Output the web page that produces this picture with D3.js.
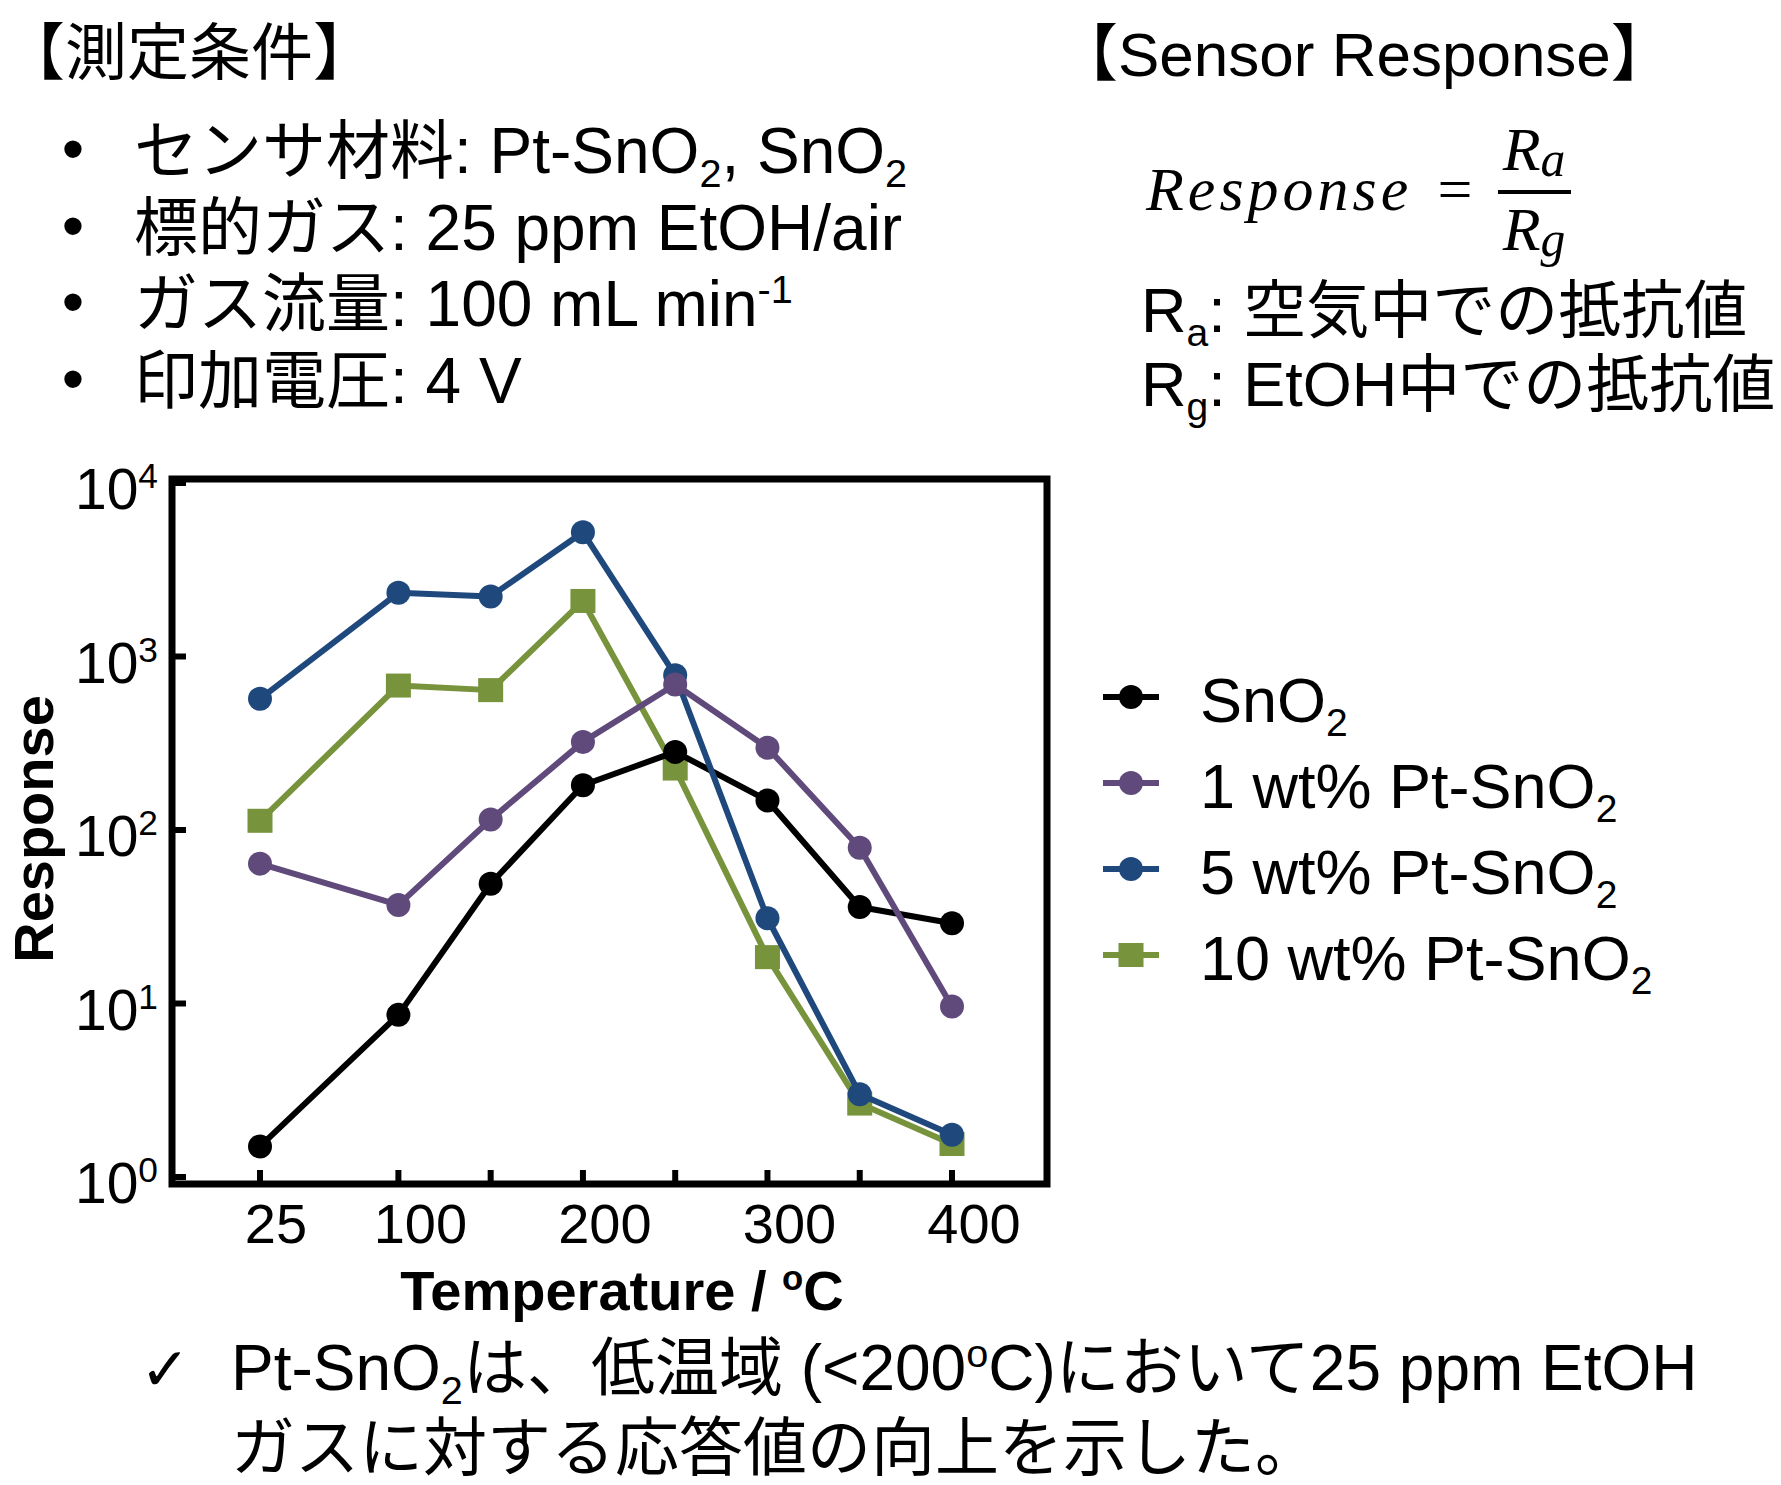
<!DOCTYPE html>
<html>
<head>
<meta charset="utf-8">
<script src="https://cdn.jsdelivr.net/npm/d3@7"></script>
<style>
  body { margin: 0; background: #fff; }
</style>
</head>
<body>
<svg id="chart"></svg>
<script>
const temps = [25, 100, 150, 200, 250, 300, 350, 400];
const xTickLabels = [25, 100, 200, 300, 400];
const yTicks = [1, 10, 100, 1000, 10000];

const sno2 = [1.5, 8.6, 49, 181, 282, 148, 36, 29];
const pt1 = [64, 37, 115, 322, 690, 298, 79, 9.6];
const pt5 = [570, 2330, 2220, 5200, 780, 31, 3.0, 1.75];
const pt10 = [113, 680, 640, 2090, 226, 18.5, 2.65, 1.55];

const legendLabels = ['SnO_{2}', '1 wt% Pt-SnO_{2}', '5 wt% Pt-SnO_{2}', '10 wt% Pt-SnO_{2}'];
const seriesColors = ['#000000', '#604a7b', '#1f497d', '#77933c'];
const seriesShapes = ['circle', 'circle', 'circle', 'square'];
const seriesValues = [sno2, pt1, pt5, pt10];
const drawOrder = [3, 0, 2, 1];

const conditionsTitle = '【測定条件】';
const conditions = [
  'センサ材料: Pt-SnO_{2}, SnO_{2}',
  '標的ガス: 25 ppm EtOH/air',
  'ガス流量: 100 mL min^{-1}',
  '印加電圧: 4 V'
];
const responseTitle = '【Sensor Response】';
const resistanceNotes = ['R_{a}: 空気中での抵抗値', 'R_{g}: EtOH中での抵抗値'];
const conclusion = [
  'Pt-SnO_{2}は、低温域 (<200^{o}C)において25 ppm EtOH',
  'ガスに対する応答値の向上を示した。'
];

const W = 1781, H = 1485;
const sans = "'Liberation Sans', Arial, 'Noto Sans CJK JP', sans-serif";
const serif = "'Liberation Serif', 'Times New Roman', serif";

const svg = d3.select('#chart')
    .attr('width', W)
    .attr('height', H)
    .attr('viewBox', [0, 0, W, H])
    .style('font-family', sans);

// small markup: _{sub} and ^{sup}
function rich(sel, str, size, subScale = 0.62, subDrop = 0.22) {
  const parts = str.split(/(_\{[^}]*\}|\^\{[^}]*\})/).filter(s => s);
  let shift = 0;
  parts.forEach(p => {
    let t = p, fs = size, target = 0;
    if (p.startsWith('_{')) { t = p.slice(2, -1); fs = size * subScale; target = size * subDrop; }
    else if (p.startsWith('^{')) { t = p.slice(2, -1); fs = size * subScale; target = -size * 0.36; }
    sel.append('tspan').attr('font-size', fs).attr('dy', target - shift).text(t);
    shift = target;
  });
  return sel;
}

// ---- header text ----
svg.append('text')
    .attr('x', 3).attr('y', 75)
    .attr('font-size', 62)
    .text(conditionsTitle);

conditions.forEach((c, i) => {
  const yb = 173 + i * 76.7;
  svg.append('text')
      .attr('x', 73).attr('y', yb - 2)
      .attr('text-anchor', 'middle')
      .attr('font-size', 64)
      .text('•');
  rich(svg.append('text').attr('x', 134).attr('y', yb).attr('font-size', 64), c, 64);
});

svg.append('text')
    .attr('x', 1056).attr('y', 76)
    .attr('font-size', 62)
    .text(responseTitle);

// formula
const formula = svg.append('g')
    .style('font-family', serif)
    .style('font-style', 'italic')
    .attr('font-size', 62);
formula.append('text')
    .attr('x', 1146).attr('y', 210)
    .attr('letter-spacing', 4)
    .text('Response');
formula.append('text')
    .attr('x', 1455).attr('y', 210)
    .attr('text-anchor', 'middle')
    .style('font-style', 'normal')
    .text('=');
formula.append('line')
    .attr('x1', 1498).attr('x2', 1571)
    .attr('y1', 192).attr('y2', 192)
    .attr('stroke', '#000')
    .attr('stroke-width', 4);
rich(formula.append('text').attr('x', 1534).attr('y', 170).attr('text-anchor', 'middle'), 'R_{a}', 62, 0.8, 0.1);
rich(formula.append('text').attr('x', 1534).attr('y', 250).attr('text-anchor', 'middle'), 'R_{g}', 62, 0.8, 0.1);

resistanceNotes.forEach((n, i) => {
  rich(svg.append('text').attr('x', 1141).attr('y', 332 + i * 74).attr('font-size', 63), n, 63);
});

// ---- chart ----
const frame = { left: 172, right: 1047, top: 479, bottom: 1184 };

const x = d3.scaleLinear()
    .domain([25, 400])
    .range([260, 952]);

const y = d3.scaleLog()
    .domain([1, 10000])
    .range([1177, 483]);

const chart = svg.append('g');

chart.append('rect')
    .attr('x', frame.left).attr('y', frame.top)
    .attr('width', frame.right - frame.left)
    .attr('height', frame.bottom - frame.top)
    .attr('fill', 'none')
    .attr('stroke', '#000')
    .attr('stroke-width', 7);

// x ticks (inward)
chart.append('g')
  .selectAll('line')
  .data(temps)
  .join('line')
    .attr('x1', d => x(d)).attr('x2', d => x(d))
    .attr('y1', frame.bottom).attr('y2', frame.bottom - 14)
    .attr('stroke', '#000')
    .attr('stroke-width', 6);

chart.append('g')
  .selectAll('text')
  .data(xTickLabels)
  .join('text')
    .attr('x', d => x(d) + (d === 25 ? 16 : 22))
    .attr('y', 1243)
    .attr('text-anchor', 'middle')
    .attr('font-size', 56)
    .text(d => d);

// y ticks (inward)
chart.append('g')
  .selectAll('line')
  .data(yTicks)
  .join('line')
    .attr('x1', frame.left).attr('x2', frame.left + 14)
    .attr('y1', d => y(d)).attr('y2', d => y(d))
    .attr('stroke', '#000')
    .attr('stroke-width', 6);

chart.append('g')
  .selectAll('text')
  .data(yTicks)
  .join('text')
    .attr('x', 158)
    .attr('y', d => y(d) + 26)
    .attr('text-anchor', 'end')
    .attr('font-size', 57)
    .each(function(d) { rich(d3.select(this), '10^{' + Math.round(Math.log10(d)) + '}', 57); });

// axis titles
rich(chart.append('text')
    .attr('x', 622).attr('y', 1310)
    .attr('text-anchor', 'middle')
    .attr('font-weight', 'bold')
    .attr('font-size', 56), 'Temperature / ^{o}C', 56);

chart.append('text')
    .attr('transform', 'translate(53,829) rotate(-90)')
    .attr('text-anchor', 'middle')
    .attr('font-weight', 'bold')
    .attr('font-size', 56)
    .text('Response');

// series
const line = d3.line()
    .x(d => x(d.t))
    .y(d => y(d.v));

function drawMarker(g, shape, color, cx, cy) {
  if (shape === 'square') {
    g.append('rect')
        .attr('x', cx - 12.5).attr('y', cy - 12)
        .attr('width', 25).attr('height', 24)
        .attr('fill', color);
  } else {
    g.append('circle')
        .attr('cx', cx).attr('cy', cy)
        .attr('r', 12)
        .attr('fill', color);
  }
}

drawOrder.forEach(i => {
  const pts = temps.map((t, k) => ({ t, v: seriesValues[i][k] }));
  const g = chart.append('g');
  g.append('path')
      .datum(pts)
      .attr('fill', 'none')
      .attr('stroke', seriesColors[i])
      .attr('stroke-width', 6)
      .attr('stroke-linejoin', 'round')
      .attr('d', line);
  pts.forEach(p => drawMarker(g, seriesShapes[i], seriesColors[i], x(p.t), y(p.v)));
});

// legend
const legendY = d3.scalePoint()
    .domain(d3.range(legendLabels.length))
    .range([697, 955]);

legendLabels.forEach((lab, i) => {
  const g = svg.append('g');
  const ly = legendY(i);
  g.append('line')
      .attr('x1', 1103).attr('x2', 1159)
      .attr('y1', ly).attr('y2', ly)
      .attr('stroke', seriesColors[i])
      .attr('stroke-width', 6);
  drawMarker(g, seriesShapes[i], seriesColors[i], 1131, ly);
  rich(g.append('text').attr('x', 1200).attr('y', ly + 25).attr('font-size', 63), lab, 63);
});

// conclusion
svg.append('text')
    .attr('x', 140).attr('y', 1390)
    .style('font-family', "'DejaVu Sans', sans-serif")
    .attr('font-size', 60)
    .text('✓');

conclusion.forEach((c, i) => {
  rich(svg.append('text').attr('x', 231).attr('y', 1390 + i * 80).attr('font-size', 64), c, 64);
});
</script>
</body>
</html>
